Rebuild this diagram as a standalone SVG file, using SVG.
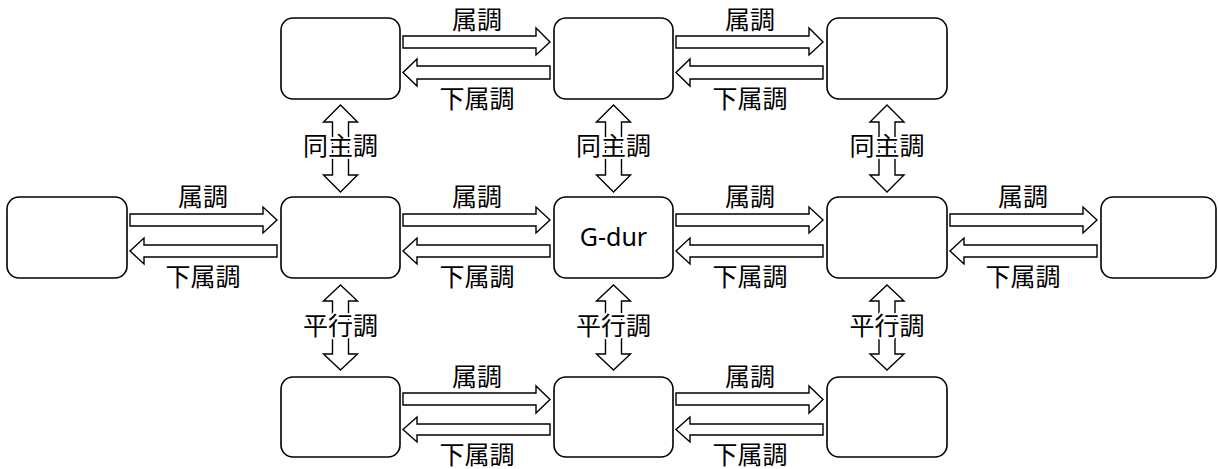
<svg xmlns="http://www.w3.org/2000/svg" width="1218" height="469" viewBox="0 0 1218 469">
<style>
.node{fill:#fff;stroke:#000;stroke-width:1.6}
.arr{fill:#fff;stroke:#000;stroke-width:1.4;stroke-linejoin:miter}
.lbl{font-family:"Noto Sans CJK JP","Noto Sans",sans-serif;font-size:25px;fill:#000;text-anchor:middle}
.halo{stroke:#fff;stroke-width:4;paint-order:stroke;stroke-linejoin:round}
.key{font-family:"Noto Sans","Open Sans",sans-serif;font-size:25px;fill:#000;text-anchor:middle}
</style>
<rect width="1218" height="469" fill="#fff"/>
<g id="connectors">
  <path class="arr" d="M403,36 H536 V28 L550,42 L536,55 V48 H403 Z"/>
  <path class="arr" d="M550,66 H417 V59 L403,72.5 L417,86 V79 H550 Z"/>
  <path class="arr" d="M676,36 H809 V28 L823,42 L809,55 V48 H676 Z"/>
  <path class="arr" d="M823,66 H690 V59 L676,72.5 L690,86 V79 H823 Z"/>
  <path class="arr" d="M130,214 H263 V207 L277,220 L263,233 V226 H130 Z"/>
  <path class="arr" d="M277,245 H144 V238 L130,251 L144,264 V257 H277 Z"/>
  <path class="arr" d="M403,214 H536 V207 L550,220 L536,233 V226 H403 Z"/>
  <path class="arr" d="M550,245 H417 V238 L403,251 L417,264 V257 H550 Z"/>
  <path class="arr" d="M676,214 H809 V207 L823,220 L809,233 V226 H676 Z"/>
  <path class="arr" d="M823,245 H690 V238 L676,251 L690,264 V257 H823 Z"/>
  <path class="arr" d="M950,214 H1083 V207 L1097,220 L1083,233 V226 H950 Z"/>
  <path class="arr" d="M1097,245 H964 V238 L950,251 L964,264 V257 H1097 Z"/>
  <path class="arr" d="M403,393 H536 V386 L550,399.5 L536,413 V405 H403 Z"/>
  <path class="arr" d="M550,424 H417 V417 L403,429.5 L417,442 V435 H550 Z"/>
  <path class="arr" d="M676,393 H809 V386 L823,399.5 L809,413 V405 H676 Z"/>
  <path class="arr" d="M823,424 H690 V417 L676,429.5 L690,442 V435 H823 Z"/>
  <path class="arr" d="M340.5,105 L357.5,122 H348.5 V175 H357.5 L340.5,192 L323.5,175 H332.5 V122 H323.5 Z"/>
  <path class="arr" d="M613.5,105 L630.5,122 H621.5 V175 H630.5 L613.5,192 L596.5,175 H605.5 V122 H596.5 Z"/>
  <path class="arr" d="M887,105 L904,122 H895 V175 H904 L887,192 L870,175 H879 V122 H870 Z"/>
  <path class="arr" d="M340.5,285 L357.5,301 H348.5 V354 H357.5 L340.5,370 L323.5,354 H332.5 V301 H323.5 Z"/>
  <path class="arr" d="M613.5,285 L630.5,301 H621.5 V354 H630.5 L613.5,370 L596.5,354 H605.5 V301 H596.5 Z"/>
  <path class="arr" d="M887,285 L904,301 H895 V354 H904 L887,370 L870,354 H879 V301 H870 Z"/>
  <text class="lbl" x="477" y="29">属調</text>
  <text class="lbl" x="477" y="108">下属調</text>
  <text class="lbl" x="750" y="29">属調</text>
  <text class="lbl" x="750" y="108">下属調</text>
  <text class="lbl" x="203" y="206">属調</text>
  <text class="lbl" x="203" y="286">下属調</text>
  <text class="lbl" x="477" y="206">属調</text>
  <text class="lbl" x="477" y="286">下属調</text>
  <text class="lbl" x="750" y="206">属調</text>
  <text class="lbl" x="750" y="286">下属調</text>
  <text class="lbl" x="1023" y="206">属調</text>
  <text class="lbl" x="1023" y="286">下属調</text>
  <text class="lbl" x="477" y="386">属調</text>
  <text class="lbl" x="477" y="464">下属調</text>
  <text class="lbl" x="750" y="386">属調</text>
  <text class="lbl" x="750" y="464">下属調</text>
  <text class="lbl halo" x="340.5" y="155">同主調</text>
  <text class="lbl halo" x="613.5" y="155">同主調</text>
  <text class="lbl halo" x="887" y="155">同主調</text>
  <text class="lbl halo" x="340.5" y="335">平行調</text>
  <text class="lbl halo" x="613.5" y="335">平行調</text>
  <text class="lbl halo" x="887" y="335">平行調</text>
</g>
<g id="node-top-1"><rect class="node" x="281" y="18" width="119" height="81" rx="12"/></g>
<g id="node-top-2"><rect class="node" x="554" y="18" width="119" height="81" rx="12"/></g>
<g id="node-top-3"><rect class="node" x="827" y="18" width="120" height="81" rx="12"/></g>
<g id="node-mid-0"><rect class="node" x="7" y="197" width="120" height="81" rx="12"/></g>
<g id="node-mid-1"><rect class="node" x="281" y="197" width="119" height="81" rx="12"/></g>
<g id="node-mid-2"><rect class="node" x="554" y="197" width="119" height="81" rx="12"/><text class="key" x="613.5" y="246">G-dur</text></g>
<g id="node-mid-3"><rect class="node" x="827" y="197" width="120" height="81" rx="12"/></g>
<g id="node-mid-4"><rect class="node" x="1101" y="197" width="115" height="81" rx="12"/></g>
<g id="node-bot-1"><rect class="node" x="281" y="377" width="119" height="80" rx="12"/></g>
<g id="node-bot-2"><rect class="node" x="554" y="377" width="119" height="80" rx="12"/></g>
<g id="node-bot-3"><rect class="node" x="827" y="377" width="120" height="80" rx="12"/></g>
</svg>
